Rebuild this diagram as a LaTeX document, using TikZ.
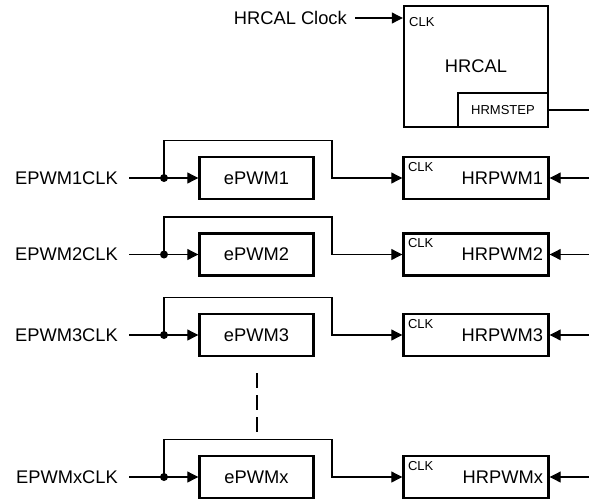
\documentclass[tikz,border=0pt]{standalone}
\usepackage{fontspec}
\setmainfont{Liberation Sans}
\usetikzlibrary{arrows.meta,calc}
\begin{document}
\begin{tikzpicture}[x=1pt,y=-1pt,
  box/.style={draw, line width=2.4pt, fill=white, inner sep=0pt},
  big/.style={font=\fontsize{18.3}{21}\selectfont},
  small/.style={font=\fontsize{13}{15}\selectfont, inner sep=0pt},
  wire/.style={line width=1.1pt},
  arr/.style={wire, -{Triangle[length=11pt,width=11pt]}},
]
\useasboundingbox (0,0) rectangle (589,499);

% HRCAL block
\node[box, big, minimum width=144pt, minimum height=121pt] (hc) at (476,66.5) {HRCAL};
\node[box, small, minimum width=90pt, minimum height=34pt] (hm) at (503,110) {HRMSTEP};
\node[small, anchor=west] (hcc) at (409,22) {CLK};
\node[big, anchor=east, inner xsep=8pt, inner ysep=0pt] (ck) at (355,18) {HRCAL Clock};
\draw[arr] (ck.east) -- (ck.east -| hc.west);
\coordinate (ms) at (589,110);
\draw[wire] (hm.east) -- (ms);

% rows
\foreach \n/\r in {1/178, 2/254.5, 3/335, x/477} {
  \node[box, big, minimum width=114pt, minimum height=42pt] (e\n) at (256.5,\r) {ePWM\n};
  \node[box, minimum width=145pt, minimum height=42pt] (h\n) at (476,\r) {};
  \node[big, anchor=east, inner sep=0pt] (hl\n) at ($(h\n.east)+(-6.5,0)$) {HRPWM\n};
  \node[small, anchor=north west] (hk\n) at ($(h\n.north west)+(5.5,6)$) {CLK};
  \node[big, anchor=east, inner xsep=11pt, inner ysep=0pt] (l\n) at (129,\r) {EPWM\n CLK};
  \coordinate (j\n) at (164,\r);
  \coordinate (t\n) at (332,\r-37.5);
  \coordinate (q\n) at (589,\r);
  \draw[wire] (l\n.east) -- (j\n);
  \draw[arr] (j\n) -- (e\n.west);
  \draw[arr] (j\n) |- (t\n) |- (h\n.west);
  \fill (j\n) circle (4pt);
  \draw[arr] (q\n) -- (h\n.east);
}

% continuation
\coordinate (d1) at (257,373);
\coordinate (d2) at (257,433);
\draw[wire, dash pattern=on 15pt off 7pt] (d1) -- (d2);
\end{tikzpicture}
\end{document}
